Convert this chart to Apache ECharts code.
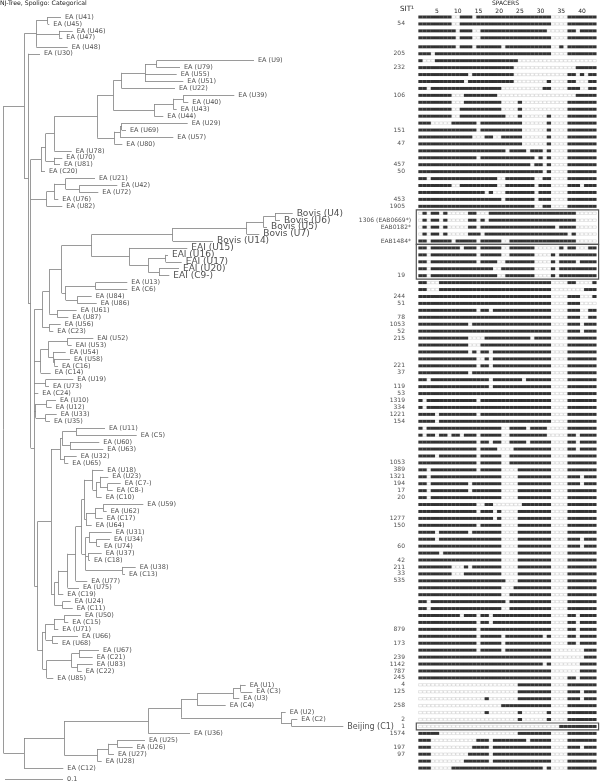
<!DOCTYPE html>
<html><head><meta charset="utf-8">
<style>html,body{margin:0;padding:0;background:#fff}#c{width:600px;height:781px}</style>
<script src="https://cdn.jsdelivr.net/npm/echarts@6/dist/echarts.min.js"></script>
</head><body><div id="c"></div>
<script>
// Tree: internal node = [distance, ...children]; tip = [label, distance]. Distance: 58 units = 0.1
const tree = [3.5,
 [24.3,
  [36.3,[47.7,['EA (U41)',61],['EA (U45)',49.3]],[59,['EA (U46)',72.7],['EA (U47)',62.3]],['EA (U48)',67.7]],
  [28.3,['EA (U30)',40],
   [30.7,
    [41,[45.7,[54.3,[97.3,
       [113.3,[121.7,[145,[156.7,['EA (U9)',254],['EA (U79)',180]],['EA (U55)',176.7],['EA (U51)',183.3]],['EA (U22)',175]],
              [154.3,[173.3,[183.3,['EA (U39)',234.3],['EA (U40)',188.3]],['EA (U43)',176.7]],['EA (U44)',163.3]]],
       [114.3,[120,[121.7,['EA (U29)',187.7],['EA (U69)',126]],['EA (U57)',173.3]],['EA (U80)',122.3]]],
      ['EA (U78)',71.7]],
      [54,['EA (U70)',62.3],['EA (U81)',60]]],
     ['EA (C20)',45]],
    [46.7,[54.3,[65.7,['EA (U21)',95],[79.3,['EA (U42)',117.3],['EA (U72)',98.3]]],['EA (U76)',58.3]],['EA (U82)',62.3]],
    [34.3,
     [42.7,
      [49.3,
       [61.7,
        [91.7,
         [172.7,[246.7,[263.3,[275,['Bovis (U4)',292.7],['Bovis (U6)',280]],['Bovis (U5)',267]],['Bovis (U7)',259.3]],['Bovis (U14)',213]],
         [129.3,['EAI (U15)',187.3],[148.3,[165.7,['EAI (U16)',168],['EAI (U17)',181.7]],[159,['EAI (U20)',179],['EAI (C9-)',169.3]]]]],
        [65.7,[95.7,['EA (U13)',127.3],['EA (C6)',127.3]],[77.3,['EA (U84)',91.7],['EA (U86)',96.7]]]],
       [57.3,['EA (U61)',76.7],['EA (U87)',68.3]]],
      [49.3,['EA (U56)',60.7],['EA (C23)',53.3]]],
     [40.7,[48.3,[67.7,['EAI (U52)',93.3],['EAI (U53)',71.7]],[53.3,['EA (U54)',65.7],[54.3,['EA (U58)',70],['EA (C16)',58]]]],['EA (C14)',50.7]],
     [45.7,['EA (U19)',73.3],['EA (U73)',49]],
     ['EA (C24)',38.3],
     [35.7,[46.7,['EA (U10)',56],['EA (U12)',51.7]],[45.7,['EA (U33)',56.7],['EA (U35)',50]]],
     [37.7,
      [51,
       [60,[62.3,[76,['EA (U11)',105],['EA (C5)',136.7]],[70,['EA (U60)',99.3],['EA (U63)',103.3]]],[64.3,['EA (U32)',76.7],['EA (U65)',68.3]]],
       [54.3,
        [58.3,
         [67.7,
          [75.7,
           [81.7,
            [84.3,
             [92.7,['EA (U18)',103.3],[96.7,[100,['EA (U23)',108.3],[107.7,['EA (C7-)',120.7],['EA (C8-)',112.7]]],['EA (C10)',101.7]]],
             [86,[95.7,[103.3,['EA (U59)',143.3],['EA (U62)',106.7]],['EA (C17)',102.7]],['EA (U64)',91.7]]],
            [85.7,
             [89.3,['EA (U31)',111.7],[96.7,['EA (U34)',110],['EA (U74)',100]]],
             [88.3,['EA (U37)',101.7],['EA (C18)',90]],
             [122.3,['EA (U38)',135.7],['EA (C13)',125]]]],
           ['EA (U77)',87.3]],
          ['EA (U75)',79]],
         ['EA (C19)',63.3]],
        [62.7,['EA (U24)',70.7],['EA (C11)',72.7]]]],
      [42.7,
       [45.7,[54,[64.3,['EA (U50)',81],['EA (C15)',68.3]],['EA (U71)',58.3]],[52.3,['EA (U66)',78],['EA (U68)',58]]],
       [46.7,[71.7,[79,['EA (U67)',99],['EA (C21)',92.7]],[77.3,['EA (U83)',92.7],['EA (C22)',81.7]]],['EA (U85)',53.3]]]]]]]],
 [24,
  [64.3,
   [148.3,
    [181,
     [197.3,[233.3,[240.7,['EA (U1)',245.7],['EA (C3)',252.3]],['EA (U3)',239.3]],['EA (C4)',225.7]],
     [281,['EA (U2)',285.7],[291.7,['EA (C2)',297.3],['Beijing (C1)',343.3]]]],
    ['EA (U36)',190]],
   [97.3,[108.3,[117.3,['EA (U25)',145],['EA (U26)',132.7]],['EA (U27)',114]],['EA (U28)',101.7]]],
  ['EA (C12)',63.3]]];

// SIT number per row (row order = tree order)
const sitLabels = ['', '54','','','','205','','232','','','','106','','','','','151','','47','','','457','50','','','','453','1905',
 '','1306 (EAB0669*)','EAB0182*','','EAB1484*','','','','','19','','','244','51','','78','1053','52','215','','','','221','37','','119',
 '53','1319','334','1221','154','','','','','','1053','389','1321','194','17','20','','','1277','150','','','60','','42','211','33','535',
 '','','','','','','879','','173','','239','1142','787','245','4','125','','258','','2','1','1574','','197','97','',''];

// Absent spacers per row, 1-based ranges
const absentSpacers = [
'9-10,14,33-36','9-10,33-36','10,14-15,32-36,39','10,14-15,33-36','10,14,21,33-34,36','4,33-36','2-4,25-43','24-38','13,24-36,39,41','12,24-31,33-36,39-41',
'3,21-30,33-36,40-41','9-11,20-38','9-11,21-24,26-36','9-10,21-24,26-36','9-10,22-24,26-31,33-36','4-8,15,26-31,33-36','15,26-31,33-36','14-16,19-20,26-31,33-36','26-31,33-36','22,27,31,33-36',
'15,29,31,33-36','28,31,33-36','31,33-36','3,20-21,29-30,33-36','9-10,20-21,29,33-36,40','17,19-21,29,33-36','21,29,33-36','29-30,33-36',
'1,3,6,8-12,15-17,39-43','1,3,6,8-12,15,17,39-43','1,3,6,8-12,15,34,39-43','1,3,6,8-12,16,37,39-43','3,9,15,21-22,39-43',
'3,11,15,21-22,29-34,36,39-41','3,15,21-22,29-32,34','3,15,20-21,29-32,34,39','3,19-20,29-32,34','3,20-21,29-32,34',
'3-5,33-36,39-42','3-5,33-40','33-36,40-42','33-36,40-43','15,18,33-36,40-41','33-36,40-41','13,33-36,40','33-36,40',
'13-16,28,33-36','13-15,33-36','13,15,18,33-36','15-16,18,33-36','15,18,33-36','13,33-36','3,18,26,33-36','18,33-36',
'33-36','2,15,33-36','2,33-36','5,15,33-36','5,33-36','2,21-22,27,32-36','2,5,8,11,15,21-22,32-36,39','15,18,21-22,27,33-36,39','15,20-23,33-36,39','5,15,21-22,33-36','15,21-22,33-36',
'3,15,21-24,33-36','3,21-24,33-36,40','3,13,21-24,33-36,40','3,13,21-24,33-36','3,21-24,33-36','15-16,19-25,33-36','15,19,21-24,33-36','19,21-24,33-36','15,21-24,33-36',
'5,13,21-24,33-36','5,21-24,33-36,40','21-24,33-36,40','6,21-24,33-36','21-24,33-36','9-11,13,21-24,33-36','9-11,21-24,33-36','22-24,33-36','21-23,33-36','21-22,33-36','3,22,33-36','3,21-22,33-36',
'11,15,18,33-36,39','15,18,33-36,39','15,33-36,39','15,21,31,33-36,39','15,21,33-36,39','15,21,33-40','33-40','31,33-39','33-39','33-36,39',
'1-24,33-36','1-24,33-36,40','1-16,18-24,33-36,40','1-20,33-36','1-16,18-24,26-31,33-36','1-24,26-31,33-36','1-34','6-24,33-36',
'4-14,18,27,33-36','4-13,18,33-36,40','4-12,18,33-36','4-11,18,33-36','4-8,31,33-36'];

const spacerTicks = [0,5,10,15,20,25,30,35,40];
const spacerCount = 43;
const rowGapAfter = 3, rowGapSize = 0.3;   // wider gap between fourth and fifth row
const scaleBar = {from: 5, to: 63, label: '0.1'};
// Boxed rows: [first, last]
const boxes = [[28,32],[33,37],[102,102]];

const rowPos = i => i + (i > rowGapAfter ? rowGapSize : 0);
const lines = [], tips = [];
function walk(n, parentX){
  if (typeof n[0] === 'string'){
    const i = tips.length, y = rowPos(i);
    tips.push({name:n[0], x:n[1], y});
    lines.push([[parentX,y],[n[1],y]]);
    return y;
  }
  const x = n[0], ys = n.slice(1).map(c => walk(c, x));
  const y = (ys[0] + ys[ys.length-1]) / 2;
  lines.push([[x,ys[0]],[x,ys[ys.length-1]]]);
  if (parentX !== null) lines.push([[parentX,y],[x,y]]);
  return y;
}
walk(tree, null);
const present = [], absent = [];
absentSpacers.forEach((s,i) => {
  const off = new Set();
  s.split(',').forEach(p => { const [a,b] = p.split('-').map(Number); for (let k=a;k<=(b||a);k++) off.add(k); });
  for (let k=1;k<=spacerCount;k++) (off.has(k)?absent:present).push([k,rowPos(i)]);
});
const labelSize = n => /^Bovis|^EAI \((U1[5-7]|U20|C9)/.test(n) ? 9 : (/^Beijing/.test(n) ? 8 : 6.5);
const font = 'DejaVu Sans';
const rowMax = 110, pitch = 6.935;
const yAxisBase = {type:'value',min:0,max:rowMax,inverse:true,show:false};
const chart = echarts.init(document.getElementById('c'),null,{renderer:'canvas'});
chart.setOption({
  animation:false, backgroundColor:'#fff',
  title:[
    {text:'NJ-Tree, Spoligo: Categorical',left:0,top:0,padding:0,textStyle:{fontSize:6.2,fontWeight:'normal',color:'#222',fontFamily:font}},
    {text:'SPACERS',left:492,top:0,padding:0,textStyle:{fontSize:6,fontWeight:'normal',color:'#222',fontFamily:font}},
    {text:'SIT¹',left:400,top:6,padding:0,textStyle:{fontSize:7.2,fontWeight:'normal',color:'#222',fontFamily:font}}
  ],
  grid:[
    {left:0,width:600,top:17,height:rowMax*pitch},
    {left:416.3,width:182.3,top:17,height:rowMax*pitch}
  ],
  xAxis:[
    {gridIndex:0,type:'value',min:0,max:600,show:false},
    {gridIndex:1,type:'value',min:0,max:44,interval:5,position:'top',
     axisLine:{show:false},axisTick:{show:false},splitLine:{show:false},
     axisLabel:{show:true,margin:3,fontSize:6,color:'#222',fontFamily:font,
       customValues:spacerTicks,formatter:v=>v===0?'':String(v)}}
  ],
  yAxis:[Object.assign({gridIndex:0},yAxisBase),Object.assign({gridIndex:1},yAxisBase)],
  series:[
    {type:'lines',coordinateSystem:'cartesian2d',xAxisIndex:0,yAxisIndex:0,silent:true,polyline:false,
     lineStyle:{color:'#808080',width:0.8,opacity:1},
     data:lines.concat([[[scaleBar.from,109.9],[scaleBar.to,109.9]]]).map(c=>({coords:c}))},
    {type:'scatter',xAxisIndex:0,yAxisIndex:0,symbolSize:0,silent:true,
     data:tips.map(t=>({value:[t.x,t.y],label:{show:true,position:'right',distance:4,formatter:t.name,
        fontSize:labelSize(t.name),color:'#222',fontFamily:font}}))
       .concat([{value:[scaleBar.to,109.9],label:{show:true,position:'right',distance:4,formatter:scaleBar.label,fontSize:6.5,color:'#222',fontFamily:font}}])},
    {type:'scatter',xAxisIndex:0,yAxisIndex:0,symbolSize:0,silent:true,
     data:sitLabels.map((s,i)=>s?({value:[s.includes('EAB')?411:405,rowPos(i)],label:{show:true,position:'left',distance:0,formatter:s,
        fontSize:6,color:'#222',fontFamily:font}}):null).filter(Boolean)},
    {type:'scatter',xAxisIndex:1,yAxisIndex:1,symbol:'rect',symbolSize:[3.7,2.4],silent:true,progressive:0,
     itemStyle:{color:'#fff',borderColor:'#b0b0b0',borderWidth:0.4},data:absent},
    {type:'scatter',xAxisIndex:1,yAxisIndex:1,symbol:'rect',symbolSize:[4.2,3],silent:true,progressive:0,
     itemStyle:{color:'#000'},data:present,
     markArea:{silent:true,itemStyle:{color:'rgba(0,0,0,0)',borderColor:'#555',borderWidth:1.2},
       data:boxes.map(b=>[{xAxis:0,yAxis:rowPos(b[0])-0.5},{xAxis:44,yAxis:rowPos(b[1])+0.5}])}}
  ]
});
</script></body></html>
